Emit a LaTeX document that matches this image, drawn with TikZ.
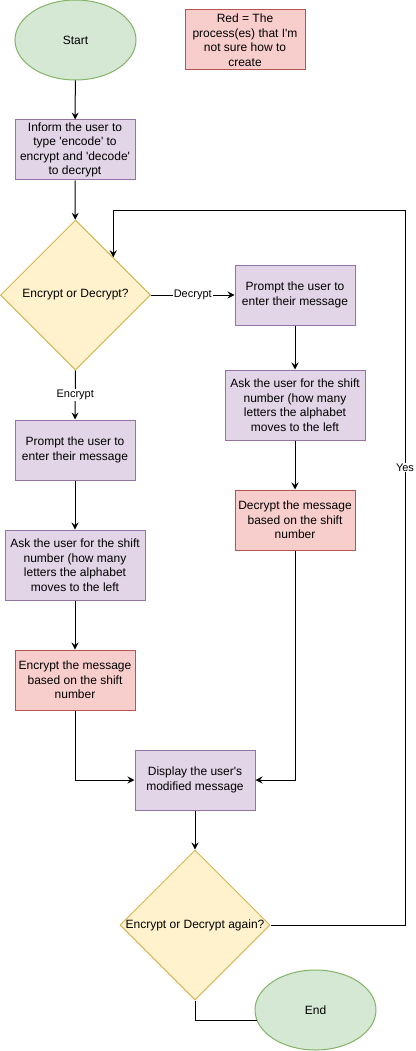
\documentclass[tikz,border=0pt]{standalone}
\usepackage{fontspec}
\setmainfont{Liberation Sans}
\usetikzlibrary{shapes.geometric, arrows.meta}
\definecolor{termfill}{HTML}{D5E8D4}
\definecolor{termline}{HTML}{82B366}
\definecolor{procfill}{HTML}{E1D5E7}
\definecolor{procline}{HTML}{9673A6}
\definecolor{redfill}{HTML}{F8CECC}
\definecolor{redline}{HTML}{B85450}
\definecolor{choicefill}{HTML}{FFF2CC}
\definecolor{choiceline}{HTML}{D6B656}
\newcommand{\sq}{\textquotesingle}

\begin{document}
\begin{tikzpicture}[x = 1pt, y = -1pt, line width = 1pt,
  txt/.style = {font = \fontsize{12}{14.5}\selectfont, align = center, inner sep = 0pt},
  term/.style = {txt, ellipse, draw = termline, fill = termfill, minimum width = 121pt, minimum height = 80pt},
  proc/.style = {txt, rectangle, draw = procline, fill = procfill, minimum width = 120pt, minimum height = 60pt},
  redproc/.style = {proc, draw = redline, fill = redfill},
  wideproc/.style = {proc, minimum width = 140pt, minimum height = 70pt},
  choice/.style = {diamond, draw = choiceline, fill = choicefill, minimum width = 150pt, minimum height = 150pt, inner sep = 0pt},
  lbl/.style = {font = \fontsize{11}{13}\selectfont, fill = white, inner sep = 1pt},
  arr/.style = {-{Stealth[length = 7pt, width = 7pt, inset = 2.5pt]}}]
\useasboundingbox (0,0) rectangle (415,1051);

%top
\node[term] (start) at (75.5,40) {Start};
\node[redproc] (note) at (245,40) {Red = The\\process(es) that I\sq m\\not sure how to\\create};
\node[proc] (inform) at (75,150) {Inform the user to\\type \sq encode\sq{} to\\encrypt and \sq decode\sq\\to decrypt};
\node[choice, label = {[txt]center:Encrypt or Decrypt?}] (choose) at (75.5,295) {};

%encrypt side
\node[proc] (encask) at (75,450) {Prompt the user to\\enter their message};
\node[wideproc] (encshift) at (75,565) {Ask the user for the shift\\number (how many\\letters the alphabet\\moves to the left};
\node[redproc] (encmsg) at (75,680) {Encrypt the message\\based on the shift\\number};

%decrypt side
\node[proc] (decask) at (295,295) {Prompt the user to\\enter their message};
\node[wideproc] (decshift) at (295,405) {Ask the user for the shift\\number (how many\\letters the alphabet\\moves to the left};
\node[redproc] (decmsg) at (295,520) {Decrypt the message\\based on the shift\\number};

%bottom
\node[proc] (show) at (195,780) {Display the user\sq s\\modified message};
\node[choice, label = {[txt]center:Encrypt or Decrypt again?}] (again) at (195,925) {};
\node[term] (finish) at (315.5,1010) {End};
\coordinate (loop) at (405,210);

\draw[arr] (start) -- (inform);
\draw[arr] (inform) -- (choose);
\draw[arr] (choose.east) -- node[lbl] {Decrypt} (decask.west);
\draw[arr] (choose.south) -- node[lbl] {Encrypt} (encask.north);
\draw[arr] (encask) -- (encshift);
\draw[arr] (encshift) -- (encmsg);
\draw[arr] (decask) -- (decshift);
\draw[arr] (decshift) -- (decmsg);
\draw[arr] (encmsg.south) |- (show.west);
\draw[arr] (decmsg.south) |- (show.east);
\draw[arr] (show) -- (again);
\draw[arr] (again.east) -| node[lbl, pos = 0.82] {Yes} (loop) -| (choose.north east);
\draw (again.south) |- (finish.190);
\end{tikzpicture}
\end{document}
